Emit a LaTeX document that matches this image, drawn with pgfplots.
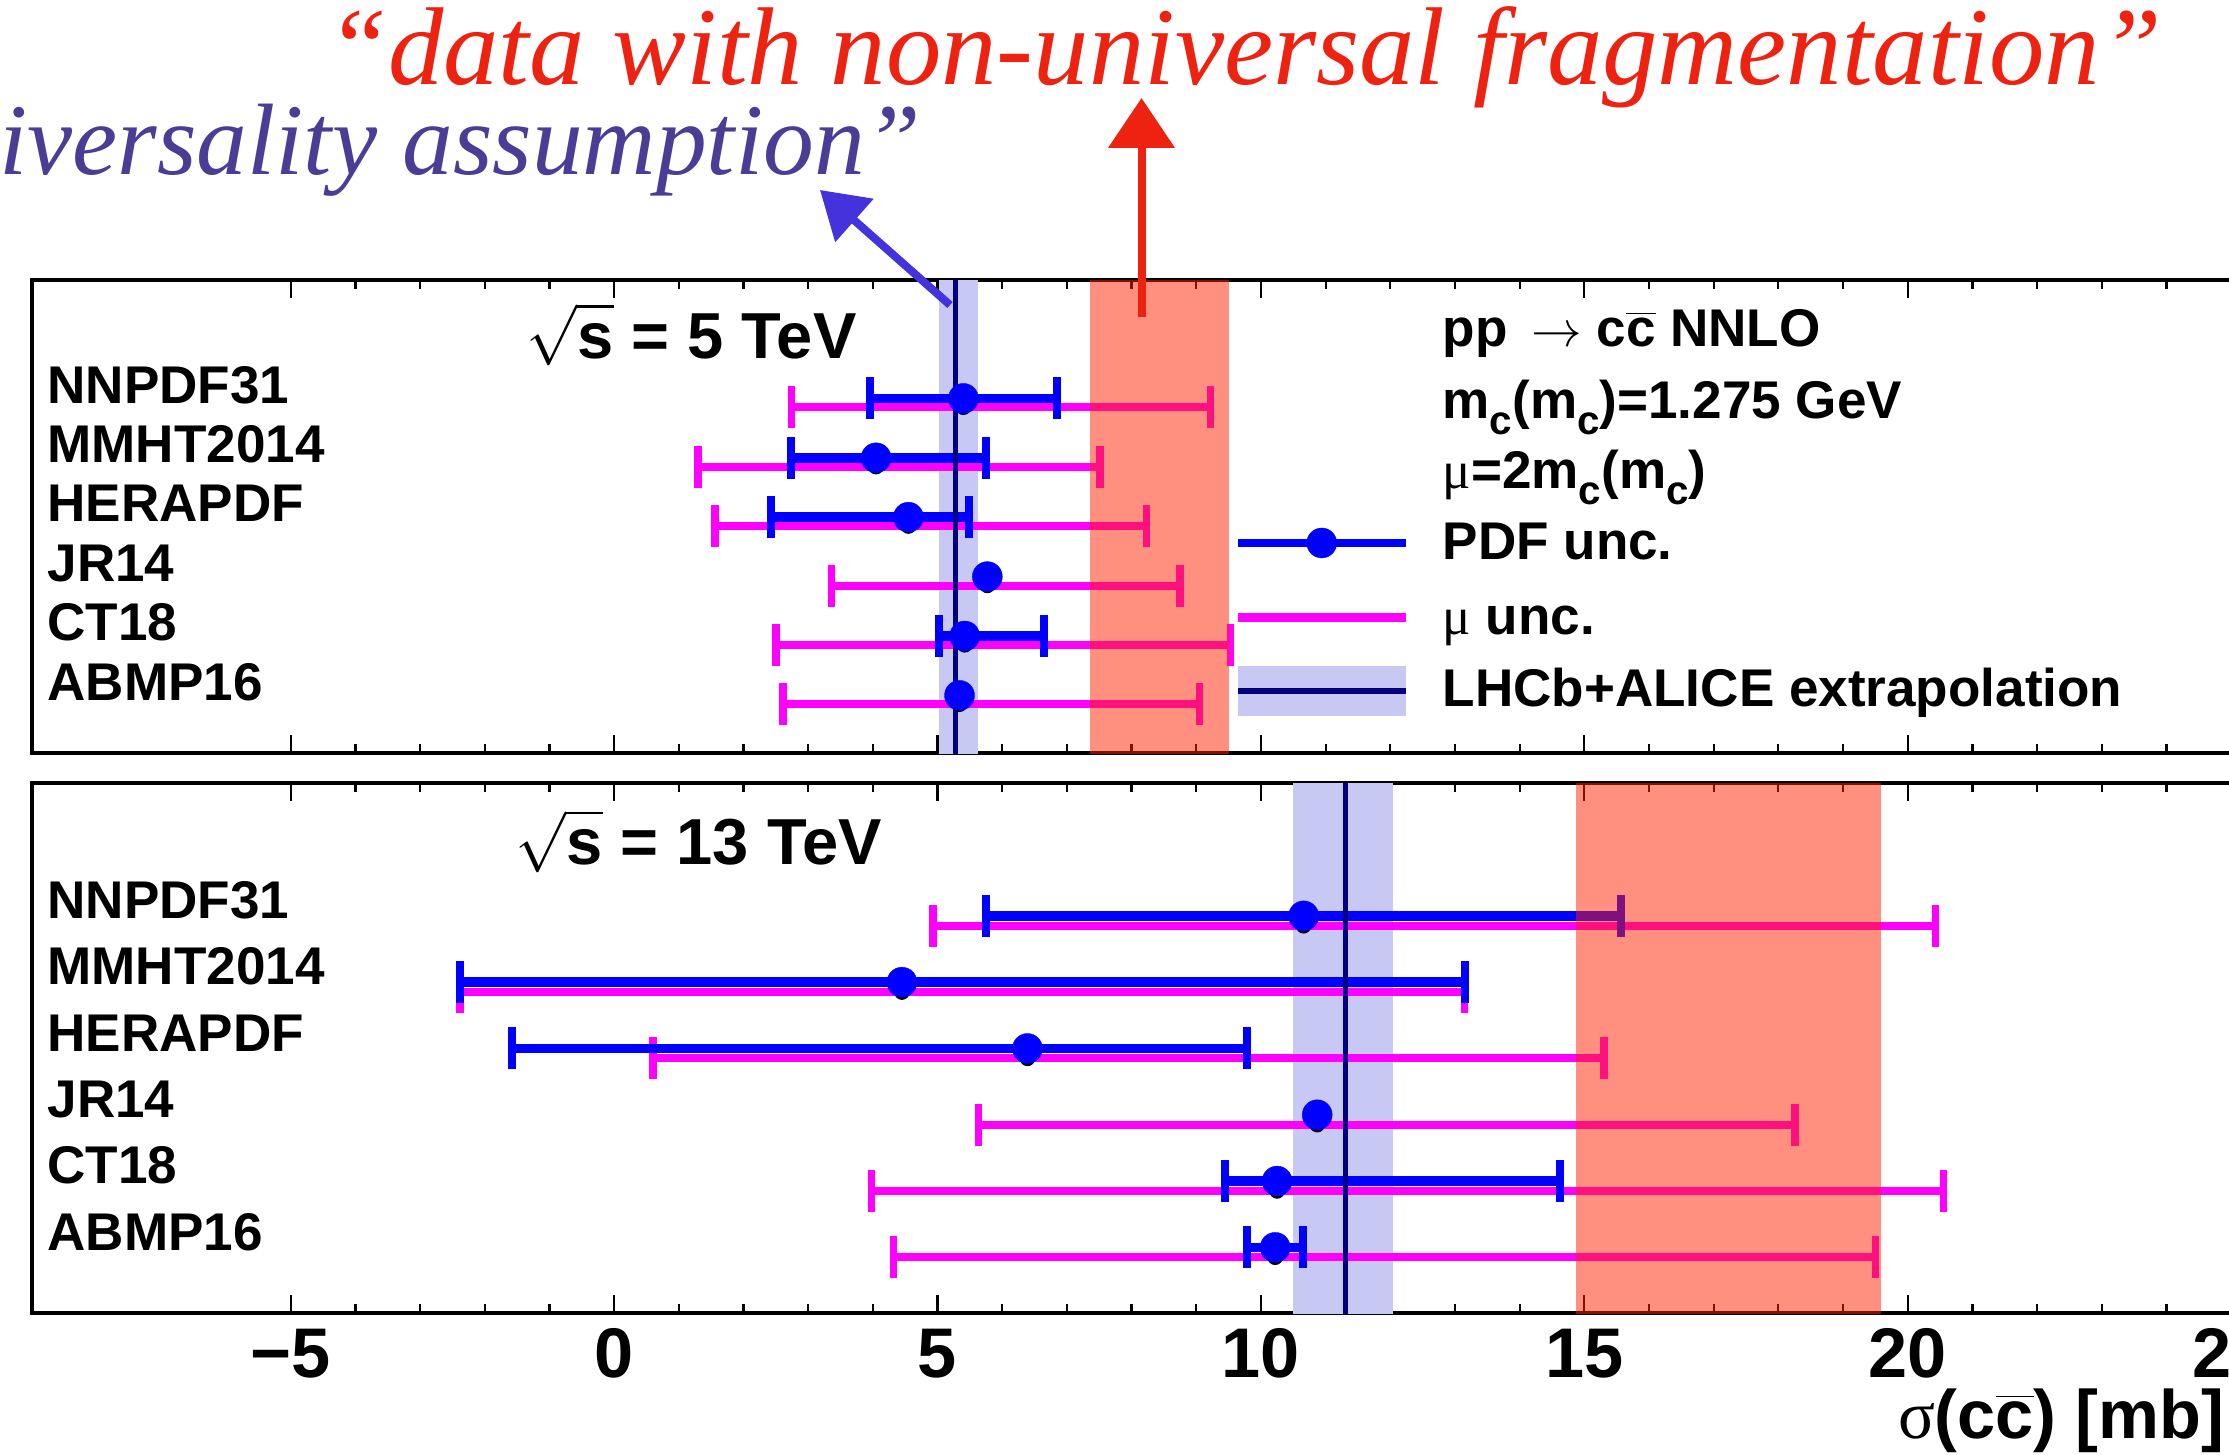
\documentclass[border=0pt]{standalone}
\usepackage{pgfplots}
\pgfplotsset{compat=1.18}
\usepackage{pgfplotstable}
\usetikzlibrary{arrows.meta}
\usepackage{fontspec}
\setmainfont{Liberation Sans}
\newfontfamily\greekfont{Liberation Serif}
\newfontfamily\handfont{Liberation Serif}

\definecolor{redann}{RGB}{238,34,17}
\definecolor{blueann}{RGB}{75,60,150}
\definecolor{bluearrow}{RGB}{68,51,221}
\definecolor{lav}{RGB}{200,200,245}
\definecolor{navy}{RGB}{0,0,128}
\definecolor{mag}{RGB}{255,0,255}
\definecolor{pdfblue}{RGB}{0,0,255}
\definecolor{bandred}{RGB}{255,32,0}

\newcommand\lab{\fontsize{15.1}{18}\selectfont\bfseries}
\newcommand\bigtxt{\fontsize{18.5}{22}\selectfont\bfseries}
\newcommand\sub[1]{\raisebox{-0.3em}{\fontsize{11.5}{12}\selectfont #1}}
\newcommand\mug{{\greekfont\mdseries μ}}

\newsavebox\rbox
\newsavebox\bbox
\newlength\rlen
\newlength\blen

% 5 TeV: scale uncertainty (magenta), central values
\pgfplotstableread{
row x     em   ep
6   5.40  2.66 3.82
5   4.05  2.75 3.46
4   4.55  2.99 3.68
3   5.77  2.41 2.98
2   5.42  2.92 4.11
1   5.34  2.73 3.71
}\muFive
% 5 TeV: PDF uncertainty (blue)
\pgfplotstableread{
row x     em   ep
6   5.40  1.45 1.45
5   4.05  1.32 1.70
4   4.55  2.12 0.94
2   5.42  0.40 1.23
}\pdfFive
% 13 TeV: scale uncertainty
\pgfplotstableread{
row x      em   ep
6   10.66  5.73 9.77
5   4.45   6.83 8.70
4   6.39   5.79 8.91
3   10.87  5.24 7.39
2   10.25  6.27 10.30
1   10.22  5.90 9.28
}\muThirteen
% 13 TeV: PDF uncertainty
\pgfplotstableread{
row x      em   ep
6   10.66  4.91 4.91
5   4.45   6.83 8.70
4   6.39   7.97 3.40
2   10.25  0.81 4.37
1   10.22  0.43 0.43
}\pdfThirteen

\pgfplotsset{
  myax/.style={
    scale only axis, width=232.85mm, xmin=-9, xmax=27,
    ytick=\empty, xtick={-5,0,...,25}, minor x tick num=4,
    major tick length=1.8mm, minor tick length=0.9mm,
    axis line style={line width=0.4mm, black},
    every tick/.style={line width=0.22mm, black},
    anchor=south west,
  },
  mubars/.style={only marks, mark=none,
    error bars/.cd, x dir=both, x explicit, error mark=|,
    error bar style={mag, line width=0.8mm},
    error mark options={mag, line width=0.75mm, mark size=2.1mm}},
  pdfbars/.style={only marks, mark=none,
    error bars/.cd, x dir=both, x explicit, error mark=|,
    error bar style={pdfblue, line width=0.95mm},
    error mark options={pdfblue, line width=0.8mm, mark size=2.1mm}},
  pts/.style={only marks, mark=*, mark size=1.5mm,
    mark options={draw=pdfblue, fill=pdfblue, line width=0.1pt}},
}

\begin{document}%
\sbox\rbox{\handfont\itshape\fontsize{20}{24}\selectfont “data with non-universal fragmentation”}%
\sbox\bbox{\handfont\itshape\fontsize{20}{24}\selectfont iversality assumption”}%
\setlength\rlen{\wd\rbox}%
\setlength\blen{\wd\bbox}%
\pgfmathsetmacro\rscale{522.11/\rlen}%
\pgfmathsetmacro\bscale{262.33/\blen}%
\begin{tikzpicture}[x=1mm,y=1mm]

% ---------------- top panel: 5 TeV ----------------
\begin{axis}[myax, at={(3.2mm,70.1mm)}, height=47.3mm,
  ymin=0.180, ymax=8.143, xticklabels={}]
\addplot[fill=lav, draw=none] coordinates {(5.02,-1) (5.02,10) (5.62,10) (5.62,-1)} -- cycle;
\addplot[mubars] table[x=x, y=row, x error minus=em, x error plus=ep]{\muFive};
\addplot[pdfbars] table[x=x, y expr=\thisrow{row}+0.15, x error minus=em, x error plus=ep]{\pdfFive};
\addplot[navy, line width=0.5mm] coordinates {(5.28,-1) (5.28,10)};
\addplot[pts] table[x=x, y expr=\thisrow{row}+0.15]{\muFive};
\addplot[fill=bandred, fill opacity=0.5, draw=none] coordinates {(7.35,-1) (7.35,10) (9.50,10) (9.50,-1)} -- cycle;
% legend symbols
\addplot[pdfblue, line width=0.85mm, mark=*, mark size=1.5mm, mark indices={2},
  mark options={fill=pdfblue, line width=0.1pt}] coordinates {(9.65,3.716) (10.94,3.716) (12.24,3.716)};
\addplot[mag, line width=0.9mm] coordinates {(9.65,2.453) (12.24,2.453)};
\addplot[fill=lav, draw=none] coordinates {(9.65,0.804) (9.65,1.645) (12.24,1.645) (12.24,0.804)} -- cycle;
\addplot[navy, line width=0.6mm] coordinates {(9.65,1.229) (12.24,1.229)};
% row labels
\node[anchor=base west, inner sep=0] at (axis cs:-8.77,6.07) {\lab NNPDF31};
\node[anchor=base west, inner sep=0] at (axis cs:-8.77,5.07) {\lab MMHT2014};
\node[anchor=base west, inner sep=0] at (axis cs:-8.77,4.07) {\lab HERAPDF};
\node[anchor=base west, inner sep=0] at (axis cs:-8.77,3.07) {\lab JR14};
\node[anchor=base west, inner sep=0] at (axis cs:-8.77,2.07) {\lab CT18};
\node[anchor=base west, inner sep=0] at (axis cs:-8.77,1.07) {\lab ABMP16};
\node[anchor=base west, inner sep=0] at (axis cs:-1.36,6.83) {\bigtxt $\sqrt{\vphantom{T}\mbox{s}}$ = 5 TeV};
% legend text
\node[anchor=base west, inner sep=0] at (axis cs:12.80,7.02) {\lab pp\ \,$\rightarrow$ c$\overline{\mbox{c}}$ NNLO};
\node[anchor=base west, inner sep=0] at (axis cs:12.80,5.815) {\lab m\sub{c}(m\sub{c})=1.275 GeV};
\node[anchor=base west, inner sep=0] at (axis cs:12.80,4.636) {\lab \mug=2m\sub{c}(m\sub{c})};
\node[anchor=base west, inner sep=0] at (axis cs:12.80,3.43) {\lab PDF unc.};
\node[anchor=base west, inner sep=0] at (axis cs:12.80,2.167) {\lab \mug\ unc.};
\node[anchor=base west, inner sep=0] at (axis cs:12.80,0.96) {\lab LHCb+ALICE extrapolation};
\end{axis}

% ---------------- bottom panel: 13 TeV ----------------
\begin{axis}[myax, at={(3.2mm,14.1mm)}, height=53.0mm,
  ymin=0.160, ymax=8.154,
  xticklabels={−5,0,5,10,15,20,25},
  xticklabel style={anchor=north, inner sep=0pt, yshift=-1.5mm,
    font=\fontsize{20}{20}\selectfont\bfseries}]
\addplot[fill=lav, draw=none] coordinates {(10.49,-1) (10.49,10) (12.04,10) (12.04,-1)} -- cycle;
\addplot[mubars] table[x=x, y=row, x error minus=em, x error plus=ep]{\muThirteen};
\addplot[pdfbars] table[x=x, y expr=\thisrow{row}+0.15, x error minus=em, x error plus=ep]{\pdfThirteen};
\addplot[navy, line width=0.5mm] coordinates {(11.31,-1) (11.31,10)};
\addplot[pts] table[x=x, y expr=\thisrow{row}+0.15]{\muThirteen};
\addplot[fill=bandred, fill opacity=0.5, draw=none] coordinates {(14.87,-1) (14.87,10) (19.58,10) (19.58,-1)} -- cycle;
\node[anchor=base west, inner sep=0] at (axis cs:-8.77,6.11) {\lab NNPDF31};
\node[anchor=base west, inner sep=0] at (axis cs:-8.77,5.11) {\lab MMHT2014};
\node[anchor=base west, inner sep=0] at (axis cs:-8.77,4.11) {\lab HERAPDF};
\node[anchor=base west, inner sep=0] at (axis cs:-8.77,3.11) {\lab JR14};
\node[anchor=base west, inner sep=0] at (axis cs:-8.77,2.11) {\lab CT18};
\node[anchor=base west, inner sep=0] at (axis cs:-8.77,1.11) {\lab ABMP16};
\node[anchor=base west, inner sep=0] at (axis cs:-1.53,6.92) {\bigtxt $\sqrt{\vphantom{T}\mbox{s}}$ = 13 TeV};
\end{axis}

% x-axis title
\node[anchor=base east, inner sep=0] at (222.5,1.6)
  {\fontsize{19.5}{20}\selectfont\bfseries{\greekfont\mdseries σ}(c$\overline{\mbox{c}}$) [mb]};

% annotations
\draw[redann, line width=0.8mm, -{Triangle[length=5mm,width=6.5mm]}] (114.15,113.7) -- (114.15,135.6);
\draw[bluearrow, line width=0.8mm, -{Triangle[length=4.6mm,width=5.6mm]}] (95.0,114.9) -- (82.0,126.4);
\node[anchor=base west, inner sep=0, text=redann] at (32.6,136.9)
  {\scalebox{\rscale}{\handfont\itshape\fontsize{20}{24}\selectfont “data with non-universal fragmentation”}};
\node[anchor=base east, inner sep=0, text=blueann] at (92.2,127.9)
  {\scalebox{\bscale}{\handfont\itshape\fontsize{20}{24}\selectfont “universality assumption”}};

\pgfresetboundingbox
\useasboundingbox (0,0) rectangle (222.9,145.4);
\end{tikzpicture}%
\end{document}
